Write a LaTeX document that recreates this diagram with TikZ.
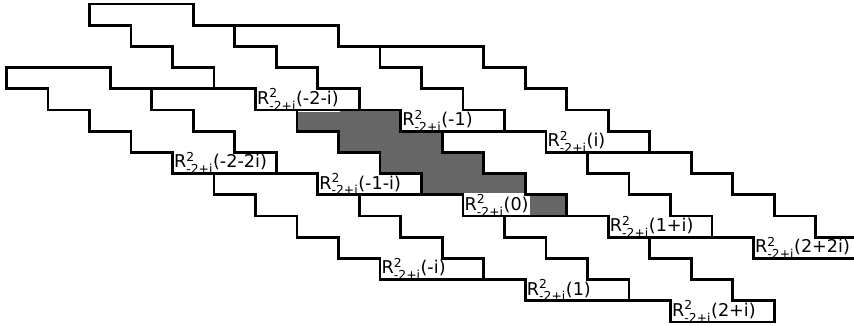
\documentclass[tikz,border=0pt]{standalone}
\usepackage{amsmath}
\usepackage{fontspec}
\setsansfont{DejaVu Sans}
\tikzset{
    tileline/.style={draw, line width=2.3pt, line join=miter},
    shaded/.style={fill=black!60},
    lab/.style={anchor=west, fill=white, inner sep=1.2pt, font=\fontsize{14.5}{16}\selectfont\sffamily},
    tile/.pic={
        \path[pic actions] (0,0) -- (5,0) -- (5,1) -- (7,1) -- (7,2) -- (9,2) -- (9,3) -- (11,3) -- (11,4)
            -- (13,4) -- (13,5) -- (8,5) -- (8,4) -- (6,4) -- (6,3) -- (4,3) -- (4,2) -- (2,2) -- (2,1) -- (0,1) -- cycle;
    }
}
\newcommand{\rlab}[1]{R$^{\text{2}}_{\text{-2+i}}$(#1)}

\begin{document}
\begin{tikzpicture}[x=0.6cm, y=-0.613cm]
    \useasboundingbox (-14.313,-5.189) rectangle (26.843,10.142);
    \clip (-14.313,-5.189) rectangle (26.843,10.142);

    % the shaded tile R(0)
    \pic[shaded] at (0,0) {tile};

    % labels sit in the bottom row of each tile
    \node (rm2m2i) [lab] at (-6,2.5) {\rlab{-2-2i}};
    \node (rm1mi) [lab] at (1,3.5) {\rlab{-1-i}};
    \node (r0) [lab] at (8,4.5) {\rlab{0}};
    \node (r1pi) [lab] at (15,5.5) {\rlab{1+i}};
    \node (r2p2i) [lab] at (22,6.5) {\rlab{2+2i}};
    \node (rm2mi) [lab] at (-2,-0.5) {\rlab{-2-i}};
    \node (rm1) [lab] at (5,0.5) {\rlab{-1}};
    \node (ri) [lab] at (12,1.5) {\rlab{i}};
    \node (rmi) [lab] at (4,7.5) {\rlab{-i}};
    \node (r1) [lab] at (11,8.5) {\rlab{1}};
    \node (r2pi) [lab] at (18,9.5) {\rlab{2+i}};

    % tile outlines
    \pic[tileline] at (-14,-2) {tile};
    \pic[tileline] at (-7,-1) {tile};
    \pic[tileline] at (0,0) {tile};
    \pic[tileline] at (7,1) {tile};
    \pic[tileline] at (14,2) {tile};
    \pic[tileline] at (-10,-5) {tile};
    \pic[tileline] at (-3,-4) {tile};
    \pic[tileline] at (4,-3) {tile};
    \pic[tileline] at (-4,3) {tile};
    \pic[tileline] at (3,4) {tile};
    \pic[tileline] at (10,5) {tile};
\end{tikzpicture}
\end{document}
